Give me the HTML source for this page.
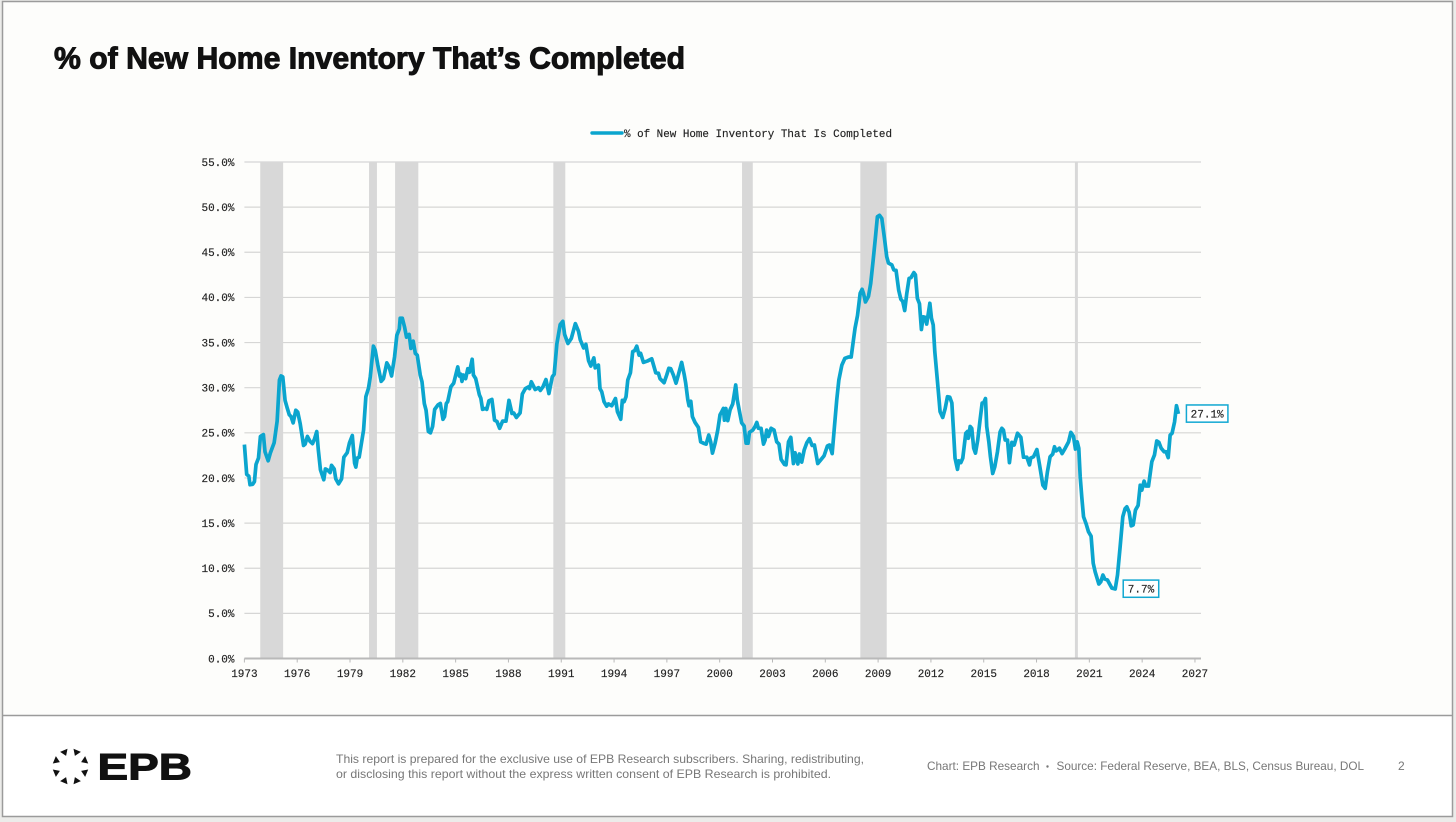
<!DOCTYPE html>
<html lang="en">
<head>
<meta charset="utf-8">
<title>% of New Home Inventory That's Completed</title>
<style>
html,body{margin:0;padding:0;background:#ececea;width:1456px;height:822px;overflow:hidden}
svg{display:block;position:absolute;left:0;top:0}
.mono{font-family:"Liberation Mono",monospace;font-size:11px;fill:#222;stroke:#222;stroke-width:0.15}
.foot{font-family:"Liberation Sans",sans-serif;font-size:12px;fill:#777}
</style>
</head>
<body>
<svg id="slide" width="1456" height="822" viewBox="0 0 1456 822" xmlns="http://www.w3.org/2000/svg">
  <rect x="2.5" y="1.5" width="1450" height="714" fill="#fdfdfb"/>
  <rect x="2.5" y="715" width="1450" height="102" fill="#ffffff"/>
  <rect x="2.5" y="1.5" width="1450" height="815" fill="none" stroke="#9b9b9b" stroke-width="1.5"/>
  <line x1="2.5" y1="715.5" x2="1452.5" y2="715.5" stroke="#9b9b9b" stroke-width="1.5"/>

  <text x="54" y="68.5" textLength="631" lengthAdjust="spacingAndGlyphs" font-family="'Liberation Sans',sans-serif" font-weight="700" font-size="31" fill="#111" stroke="#111" stroke-width="1">% of New Home Inventory That’s Completed</text>

  <g id="chart"></g>

  <line x1="592" y1="133" x2="622" y2="133" stroke="#0ba5ce" stroke-width="3.4" stroke-linecap="round"/>
  <text class="mono" x="624" y="137" textLength="268" lengthAdjust="spacingAndGlyphs">% of New Home Inventory That Is Completed</text>

  <g fill="#111" transform="translate(70.5 766.5)">
    <polygon points="-4,-17.5 4,-17.5 0,-11.5" transform="rotate(-22.5)"/>
    <polygon points="-4,-17.5 4,-17.5 0,-11.5" transform="rotate(22.5)"/>
    <polygon points="-4,-17.5 4,-17.5 0,-11.5" transform="rotate(67.5)"/>
    <polygon points="-4,-17.5 4,-17.5 0,-11.5" transform="rotate(112.5)"/>
    <polygon points="-4,-17.5 4,-17.5 0,-11.5" transform="rotate(157.5)"/>
    <polygon points="-4,-17.5 4,-17.5 0,-11.5" transform="rotate(202.5)"/>
    <polygon points="-4,-17.5 4,-17.5 0,-11.5" transform="rotate(247.5)"/>
    <polygon points="-4,-17.5 4,-17.5 0,-11.5" transform="rotate(292.5)"/>
  </g>
  <text x="97.5" y="779.5" textLength="94.5" lengthAdjust="spacingAndGlyphs" font-family="'Liberation Sans',sans-serif" font-weight="700" font-size="37.5" fill="#111" stroke="#111" stroke-width="1">EPB</text>

  <text class="foot" x="336" y="763" textLength="528" lengthAdjust="spacingAndGlyphs">This report is prepared for the exclusive use of EPB Research subscribers. Sharing, redistributing,</text>
  <text class="foot" x="336" y="778" textLength="495" lengthAdjust="spacingAndGlyphs">or disclosing this report without the express written consent of EPB Research is prohibited.</text>
  <text class="foot" x="927" y="770" textLength="112.5" lengthAdjust="spacingAndGlyphs">Chart: EPB Research</text>
  <circle cx="1047.5" cy="766.5" r="1.2" fill="#777"/>
  <text class="foot" x="1056.5" y="770" textLength="307.5" lengthAdjust="spacingAndGlyphs">Source: Federal Reserve, BEA, BLS, Census Bureau, DOL</text>
  <text class="foot" x="1398" y="770">2</text>
</svg>
<script>
const seriesDates = [
1973,1973.13,1973.25,1973.32,1973.47,1973.57,1973.66,1973.8,1973.91,1974.08,1974.17,1974.35,1974.48,1974.69,1974.86,1974.99,1975.08,1975.18,1975.31,1975.44,1975.55,1975.65,1975.77,1975.92,1976.03,1976.17,1976.36,1976.45,1976.58,1976.73,1976.87,1976.98,1977.11,1977.2,1977.32,1977.51,1977.6,1977.74,1977.87,1977.95,1978.1,1978.19,1978.35,1978.52,1978.65,1978.84,1978.97,1979.13,1979.26,1979.33,1979.41,1979.52,1979.77,1979.9,1980.05,1980.15,1980.33,1980.43,1980.58,1980.77,1980.9,1981.09,1981.22,1981.36,1981.53,1981.66,1981.8,1981.85,1981.97,1982.1,1982.21,1982.36,1982.46,1982.59,1982.71,1982.82,1982.99,1983.09,1983.22,1983.32,1983.45,1983.57,1983.69,1983.81,1984,1984.13,1984.28,1984.37,1984.47,1984.55,1984.73,1984.89,1985.12,1985.21,1985.29,1985.36,1985.44,1985.57,1985.69,1985.78,1985.94,1986.01,1986.14,1986.35,1986.43,1986.53,1986.68,1986.77,1986.89,1987.06,1987.21,1987.35,1987.5,1987.67,1987.86,1988.03,1988.2,1988.3,1988.45,1988.66,1988.79,1988.96,1989.15,1989.2,1989.3,1989.52,1989.71,1989.81,1989.96,1990.13,1990.3,1990.49,1990.6,1990.75,1990.94,1991.09,1991.19,1991.38,1991.57,1991.8,1991.98,1992.08,1992.27,1992.4,1992.55,1992.68,1992.85,1992.93,1993.11,
1993.2,1993.3,1993.43,1993.58,1993.68,1993.87,1994.08,1994.19,1994.38,1994.47,1994.57,1994.68,1994.78,1994.93,1995.06,1995.17,1995.29,1995.42,1995.51,1995.67,1995.89,1996.14,1996.37,1996.52,1996.61,1996.84,1996.99,1997.11,1997.22,1997.37,1997.52,1997.65,1997.84,1997.99,1998.07,1998.19,1998.26,1998.36,1998.45,1998.6,1998.79,1998.92,1999.08,1999.23,1999.38,1999.49,1999.59,1999.74,1999.89,2000.02,2000.12,2000.21,2000.27,2000.35,2000.46,2000.59,2000.74,2000.91,2001,2001.16,2001.25,2001.39,2001.5,2001.61,2001.69,2001.88,2002.01,2002.11,2002.2,2002.35,2002.49,2002.58,2002.67,2002.77,2002.92,2003.09,2003.24,2003.37,2003.49,2003.68,2003.77,2003.91,2004.04,2004.19,2004.28,2004.44,2004.53,2004.66,2004.8,2004.95,2005.1,2005.25,2005.38,2005.57,2005.74,2005.93,2006.12,2006.24,2006.39,2006.52,2006.65,2006.77,2006.94,2007.11,2007.32,2007.47,2007.6,2007.69,2007.83,2007.98,2008.09,2008.17,2008.28,2008.45,2008.58,2008.72,2008.85,2008.96,2009.08,2009.21,2009.36,2009.49,2009.59,2009.78,2009.89,2010.02,2010.17,2010.29,2010.4,2010.51,2010.63,2010.76,2010.87,2011.03,2011.12,2011.23,2011.35,2011.46,2011.56,2011.67,2011.76,2011.94,2012.03,2012.13,2012.22,2012.33,2012.43,2012.52,2012.67,2012.81,2012.94,2013.07,2013.19,2013.28,2013.37,2013.51,2013.58,2013.7,2013.81,2013.98,2014.08,2014.13,2014.23,2014.32,2014.43,2014.53,2014.66,2014.79,2014.91,2015,2015.1,2015.17,2015.29,2015.38,2015.51,2015.63,2015.78,2015.93,2016.03,2016.12,2016.22,2016.35,2016.46,2016.6,2016.73,2016.92,2017.11,2017.26,2017.45,2017.6,2017.67,2017.83,2018.02,2018.17,2018.36,2018.49,2018.62,2018.77,2018.92,2019.02,2019.11,2019.3,2019.45,2019.63,2019.82,2019.95,2020.1,2020.21,2020.31,2020.4,2020.48,2020.57,2020.67,2020.82,2020.95,2021.1,2021.22,2021.33,2021.54,2021.65,2021.77,2021.88,2022.03,2022.14,2022.28,2022.47,2022.6,2022.75,2022.9,2023.03,2023.13,2023.26,2023.38,2023.49,2023.62,2023.77,2023.89,2023.98,2024.11,2024.21,2024.36,2024.55,2024.7,2024.83,2024.95,2025.08,2025.25,2025.36,2025.48,2025.59,2025.7,2025.84,2025.95,2026.06
];
const seriesValues = [
23.7,20.4,20.2,19.25,19.3,19.6,21.5,22.2,24.6,24.8,22.9,21.9,22.8,23.9,26.3,30.85,31.3,31.2,28.6,27.7,27,26.8,26.1,27.5,27.3,26,23.6,23.75,24.6,24.05,23.8,24.3,25.15,23.1,20.9,19.8,21,20.85,20.6,21.4,21,19.9,19.35,19.9,22.3,22.8,23.9,24.7,21.65,21.2,22.2,22.3,25.3,29,29.95,31.2,34.6,34.15,32.5,30.7,31,32.75,32.3,31.3,33.4,35.8,36.5,37.7,37.7,36.7,35.6,35.9,34.35,35.15,33.8,33.6,31.4,30.65,28.25,27.5,25.15,25,25.7,27.6,28.1,28.25,26.5,26.8,28.25,28.45,30.1,30.5,32.3,31.3,31.5,30.7,31.4,31,32.1,31.7,33.15,31.4,31,29.2,28.85,27.6,27.7,27.6,28.55,28.7,26.4,26.25,25.5,26.3,26.3,28.6,27.15,27.2,26.7,27.2,29.3,29.9,30.1,29.9,30.65,29.8,30,29.7,30.1,30.9,29.35,31.2,31.5,34.85,37,37.35,35.9,34.9,35.45,37.1,36.25,35.3,34.4,34.8,33,32.4,33.3,32.2,32.5,
29.9,29.55,28.45,27.95,28.2,28,28.8,27.35,26.5,28.6,28.45,29,30.85,31.65,34,34.1,34.6,33.6,33.8,32.8,32.95,33.2,31.65,31.6,31,30.55,31.4,32.15,32.1,31.4,30.5,31.4,32.8,31.4,30.5,28.65,28,28.5,26.8,26.15,25.6,24,23.85,23.75,24.75,24,22.75,23.85,25.3,27,27.35,27.7,26.4,27.7,26.35,27.55,28.2,30.3,28.65,27,26.1,25.75,23.85,23.85,25.05,25.3,25.7,26.15,25.5,25.5,23.75,24.2,25.3,24.6,25.5,25.3,24,23.75,22.05,21.5,21.45,24,24.5,21.6,22.8,21.55,22.65,21.75,23.1,23.9,24.35,23.6,23.65,21.6,22,22.45,23.55,23.65,22.7,25.7,28.65,30.85,32.5,33.25,33.4,33.4,35.3,36.6,38,40.45,40.9,40.45,39.5,40.1,41.55,44.15,46.7,48.95,49.1,48.75,46.55,44.5,43.8,43.6,43.05,43,40.8,39.8,39.55,38.55,40.45,42.1,42.2,42.75,42.5,39.9,39.3,36.45,37.85,37.8,37.05,39.35,37.7,36.95,34,31.6,29.4,27.35,26.7,27.7,29,28.95,28.3,25.3,22.2,20.95,21.9,21.7,22.2,24.95,25.15,24.4,25.7,25.5,23.3,22.75,24.2,26.4,28.3,28.35,28.8,25.7,24,22.35,20.5,21.25,22.9,25.1,25.5,25.3,24.2,24.2,21.7,23.95,23.65,24.95,24.5,22.3,22.3,21.45,22.2,22.35,23.15,21.45,19.2,18.85,20.7,22.35,22.65,23.45,23,23.3,22.7,23.3,24,25.05,24.6,23.2,24,23.3,20.15,17.9,15.7,14.9,14.05,13.55,10.55,9.6,8.25,8.5,9.25,8.8,8.7,8.3,7.8,7.7,9.25,12.4,15.7,16.6,16.8,16.2,14.7,14.8,16.45,16.95,19.2,18.65,19.65,19.1,19.1,21.8,22.55,24.1,23.95,23.3,22.9,22.9,22.25,24.75,24.95,26.2,28,27.1
];
const recessionStarts = [1973.9,1980.08,1981.56,1990.55,2001.27,2007.99,2020.18];
const recessionEnds = [1975.2,1980.53,1982.88,1991.23,2001.88,2009.49,2020.35];
const xTickLabels = ["1973","1976","1979","1982","1985","1988","1991","1994","1997","2000","2003","2006","2009","2012","2015","2018","2021","2024","2027"];
const yTickValues = [0,5,10,15,20,25,30,35,40,45,50,55];

const NS = "http://www.w3.org/2000/svg";
const chart = document.getElementById("chart");
const xScale = year => 244.4 + (year - 1973) * 17.603;
const yScale = value => 658.5 - value * 9.027;
const plotLeft = 244.4, plotRight = 1201;

function make(tag, attrs, parent) {
  const el = document.createElementNS(NS, tag);
  for (const k in attrs) el.setAttribute(k, attrs[k]);
  (parent || chart).appendChild(el);
  return el;
}

yTickValues.forEach(v => {
  if (v > 0) {
    const g = make("line", {x1: plotLeft, x2: plotRight, y1: yScale(v), y2: yScale(v), stroke: "#d6d6d5", "stroke-width": 1.2});
    
    
  }
  const t = make("text", {x: 234.5, y: yScale(v) + 3.8, "text-anchor": "end", class: "mono"});
  t.textContent = v.toFixed(1) + "%";
  
  
});

recessionStarts.forEach((start, i) => {
  const r = make("rect", {x: xScale(start), y: yScale(55), width: xScale(recessionEnds[i]) - xScale(start), height: yScale(0) - yScale(55), fill: "#d8d8d8"});
  
  
});

const axis = make("line", {x1: plotLeft, x2: plotRight, y1: yScale(0), y2: yScale(0), stroke: "#b9b9b9", "stroke-width": 2});



xTickLabels.forEach(label => {
  const x = xScale(Number(label));
  const tick = make("line", {x1: x, x2: x, y1: yScale(0), y2: yScale(0) + 4, stroke: "#b9b9b9", "stroke-width": 1});
  
  
  const t = make("text", {x: x, y: 677, "text-anchor": "middle", class: "mono"});
  t.textContent = label;
  
  
});

const pathD = seriesDates.map((d, i) => (i ? "L" : "M") + xScale(d).toFixed(2) + " " + yScale(seriesValues[i]).toFixed(2)).join("");
const seriesLine = make("path", {d: pathD, fill: "none", stroke: "#0ba5ce", "stroke-width": 3.7, "stroke-linejoin": "round", "stroke-linecap": "butt"});



function callout(idx, dx, width) {
  const cx = xScale(seriesDates[idx]) + dx;
  const cy = yScale(seriesValues[idx]) - 0.3;
  const box = make("rect", {x: cx, y: cy - 8.6, width: width, height: 17.2, fill: "#fff", stroke: "#12a8d2", "stroke-width": 1.5});
  
  
  const t = make("text", {x: cx + width / 2, y: cy + 3.8, "text-anchor": "middle", class: "mono"});
  t.textContent = seriesValues[idx].toFixed(1) + "%";
  
  
}
const lastIndex = seriesValues.length - 1;
let minIndex = 0;
seriesValues.forEach((v, i) => { if (v < seriesValues[minIndex]) minIndex = i; });
callout(lastIndex, 8, 41.5);
callout(minIndex, 8, 35.5);
</script>
</body>
</html>
